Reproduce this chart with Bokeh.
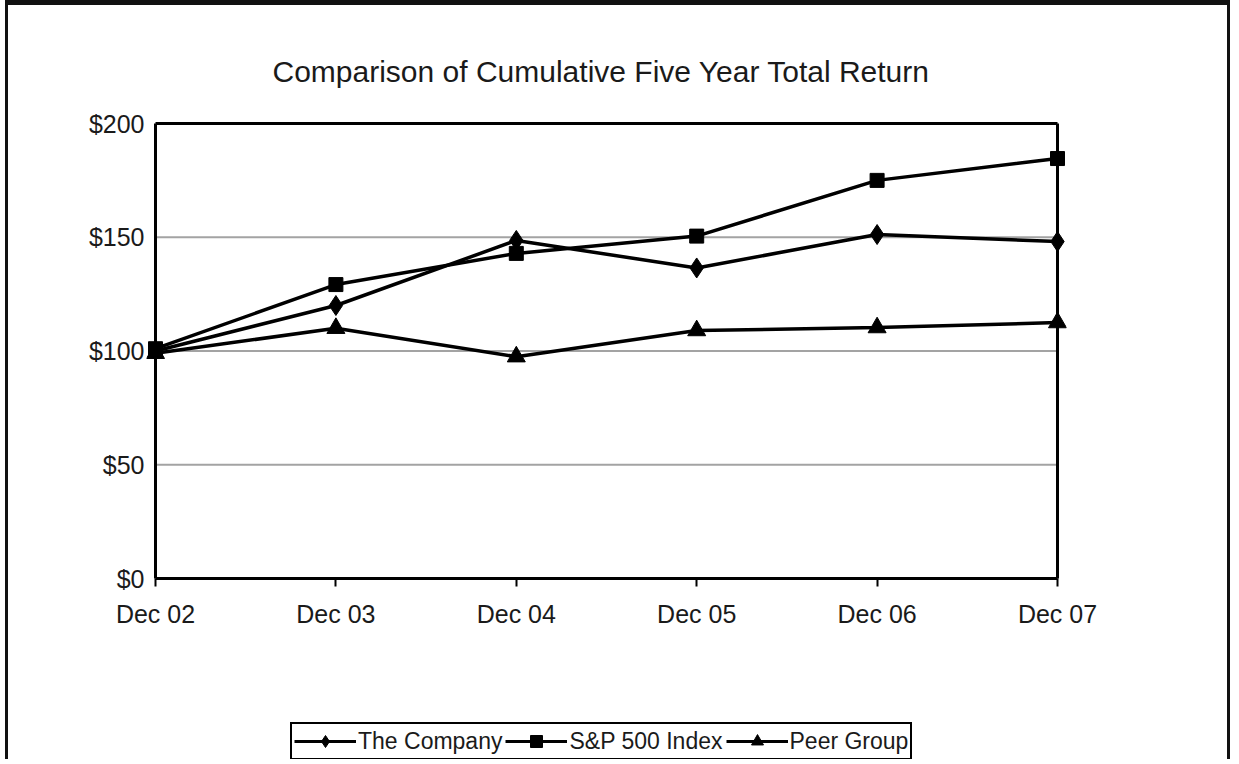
from bokeh.plotting import figure
from bokeh.layouts import column
from bokeh.models import Range1d, FixedTicker, NumeralTickFormatter, Legend, LegendItem
from bokeh.embed import file_html
from bokeh.resources import INLINE

# ---- data ----
categories = ["Dec 02", "Dec 03", "Dec 04", "Dec 05", "Dec 06", "Dec 07"]
company = [100, 120, 148.6, 136.5, 151.2, 148.1]
sp500 = [101, 129.2, 142.9, 150.5, 175, 184.6]
peer = [99, 110, 97.5, 109, 110.3, 112.5]
y_ticks = [0, 50, 100, 150, 200]
series_names = ["The Company", "S&P 500 Index", "Peer Group"]

x = list(range(len(categories)))
FONT = "Liberation Sans"

# padding so markers at the edges are not clipped
px_per_x = 902 / (x[-1] - x[0])
px_per_y = 455 / (y_ticks[-1] - y_ticks[0])
xpad = 9 / px_per_x
ypad = 7 / px_per_y

p = figure(width=1225, height=695, output_backend="svg", toolbar_location=None,
           x_range=Range1d(x[0] - xpad, x[-1] + xpad),
           y_range=Range1d(y_ticks[0] - ypad, y_ticks[-1] + ypad),
           min_border_left=138, min_border_right=167, min_border_top=111, min_border_bottom=115,
           styles={"margin-left": "5px", "border-left": "3px solid #111",
                   "border-right": "3px solid #111", "border-top": "5px solid #111"})
p.outline_line_color = None
p.background_fill_color = "white"
p.border_fill_color = "white"
p.xgrid.visible = False
p.ygrid.visible = False

# title
p.title.text = "Comparison of Cumulative Five Year Total Return"
p.title.text_font = FONT
p.title.text_font_size = "30px"
p.title.text_font_style = "normal"
p.title.text_color = "#1a1a1a"
p.title.align = "left"
p.title.offset = 126
p.title.standoff = 58

# grid lines (inner ticks only)
grid_vals = y_ticks[1:-1]
p.segment(x0=[x[0]] * len(grid_vals), x1=[x[-1]] * len(grid_vals), y0=grid_vals, y1=grid_vals,
          line_color="#a3a3a3", line_width=2)

# plot box
p.segment(x0=[x[0], x[-1], x[0], x[0]], x1=[x[0], x[-1], x[-1], x[-1]],
          y0=[y_ticks[0], y_ticks[0], y_ticks[0], y_ticks[-1]],
          y1=[y_ticks[-1], y_ticks[-1], y_ticks[0], y_ticks[-1]],
          line_color="black", line_width=3)

# axes
p.xaxis.ticker = FixedTicker(ticks=x)
p.xaxis.major_label_overrides = {i: c for i, c in zip(x, categories)}
p.xaxis.axis_line_color = None
p.xaxis.major_tick_in = 7
p.xaxis.major_tick_out = 1
p.xaxis.major_tick_line_width = 2
p.xaxis.major_tick_line_color = "black"
p.xaxis.minor_tick_line_color = None
p.xaxis.major_label_standoff = 13
p.xaxis.major_label_text_font = FONT
p.xaxis.major_label_text_font_size = "25px"
p.xaxis.major_label_text_color = "#1a1a1a"

p.yaxis.ticker = FixedTicker(ticks=y_ticks)
p.yaxis.formatter = NumeralTickFormatter(format="$0")
p.yaxis.axis_line_color = None
p.yaxis.major_tick_line_color = None
p.yaxis.minor_tick_line_color = None
p.yaxis.major_tick_in = 0
p.yaxis.major_tick_out = 0
p.yaxis.major_label_standoff = 2
p.yaxis.major_label_text_font = FONT
p.yaxis.major_label_text_font_size = "25px"
p.yaxis.major_label_text_color = "#1a1a1a"

# legend strip (separate figure so the legend is not clipped); its glyphs
# use the same data but lie outside this strip's visible range
p2 = figure(width=1225, height=64, output_backend="svg", toolbar_location=None,
            x_axis_type=None, y_axis_type=None,
            x_range=Range1d(-100, -99), y_range=Range1d(-100, -99),
            min_border_left=0, min_border_right=0, min_border_top=0, min_border_bottom=0,
            styles={"margin-left": "5px", "border-left": "3px solid #111",
                    "border-right": "3px solid #111"})
p2.outline_line_color = None
p2.xgrid.visible = False
p2.ygrid.visible = False
p2.border_fill_color = "white"
p2.background_fill_color = "white"

styles = [("diamond", 20), ("square", 14), ("triangle", 18)]
series = [company, sp500, peer]
items = []
for vals, (marker, size), name in zip(series, styles, series_names):
    p.line(x, vals, line_color="black", line_width=3.5)
    p.scatter(x, vals, marker=marker, size=size, fill_color="black", line_color="black")
    l2 = p2.line(x, vals, line_color="black", line_width=3)
    s2 = p2.scatter(x, vals, marker=marker, size=size, fill_color="black", line_color="black")
    items.append(LegendItem(label=name, renderers=[l2, s2]))

legend = Legend(items=items, orientation="horizontal", location=(144, -1),
                border_line_color="black", border_line_width=2, border_line_alpha=1,
                background_fill_color="white", background_fill_alpha=1,
                padding=2, spacing=3, margin=0,
                glyph_width=62, glyph_height=30, label_standoff=2,
                label_text_font=FONT, label_text_font_size="23px",
                label_text_color="#1a1a1a")
p2.add_layout(legend, "center")

layout = column(p, p2, spacing=0)
open("out.html", "w").write(file_html(layout, INLINE))
